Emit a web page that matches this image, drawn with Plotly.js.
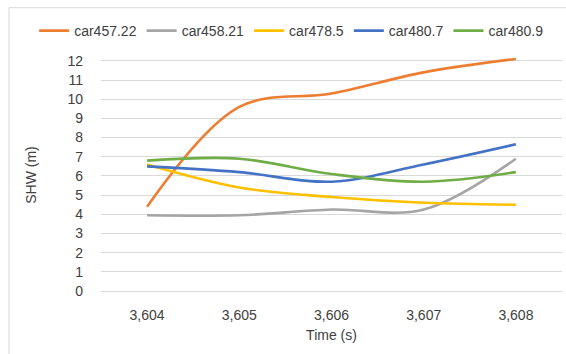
<!DOCTYPE html>
<html>
<head>
<meta charset="utf-8">
<script src="https://cdn.plot.ly/plotly-3.0.1.min.js"></script>
<style>html,body{margin:0;padding:0;background:#fff;}#chart{width:566px;height:354px;}</style>
</head>
<body>
<div id="chart"></div>
<script>
const times = [3604, 3605, 3606, 3607, 3608];
const seriesNames = ["car457.22", "car458.21", "car478.5", "car480.7", "car480.9"];
const car457_22 = [4.4, 9.6, 10.3, 11.4, 12.1];
const car458_21 = [3.95, 3.95, 4.25, 4.25, 6.9];
const car478_5 = [6.6, 5.4, 4.9, 4.6, 4.5];
const car480_7 = [6.5, 6.2, 5.7, 6.6, 7.65];
const car480_9 = [6.8, 6.9, 6.1, 5.7, 6.2];
const colors = ["#ED7D31", "#A5A5A5", "#FFC000", "#4472C4", "#70AD47"];
const allSeries = [car457_22, car458_21, car478_5, car480_7, car480_9];

const traces = allSeries.map((ys, i) => ({
  x: times, y: ys, name: seriesNames[i], type: "scatter", mode: "lines",
  line: {color: colors[i], width: 2.6, shape: "spline", smoothing: 1},
  cliponaxis: false
}));

const font = {family: "Liberation Sans, Arial, sans-serif", size: 14, color: "#404040"};
const layout = {
  width: 566, height: 354,
  margin: {l: 101, r: 4, t: 57, b: 61},
  paper_bgcolor: "#fff", plot_bgcolor: "#fff",
  font: font,
  showlegend: true,
  legend: {orientation: "h", xref: "paper", yref: "paper", x: -0.145, xanchor: "left", y: 1.11, yanchor: "middle", font: font, itemwidth: 30, traceorder: "normal"},
  xaxis: {range: [3603.5, 3608.5], dtick: 1, tick0: 3604, tickformat: ",", showgrid: false, zeroline: false, showline: false, ticks: "", ticklabelstandoff: 12,
    title: {text: "Time (s)", font: font, standoff: 8}},
  yaxis: {range: [-0.1, 12.2], dtick: 1, tick0: 0, showgrid: true, gridcolor: "#d9d9d9", gridwidth: 1, zeroline: false, showline: false, ticks: "", ticklabelstandoff: 17,
    title: {text: "SHW (m)", font: font, standoff: 27}},
  shapes: [{type: "rect", xref: "paper", yref: "paper", x0: -0.1996, x1: 1.2, y0: -0.5, y1: 1.209, line: {color: "#d9d9d9", width: 1}, fillcolor: "rgba(0,0,0,0)", layer: "below"}]
};
Plotly.newPlot("chart", traces, layout, {displayModeBar: false, staticPlot: true});
</script>
</body>
</html>
